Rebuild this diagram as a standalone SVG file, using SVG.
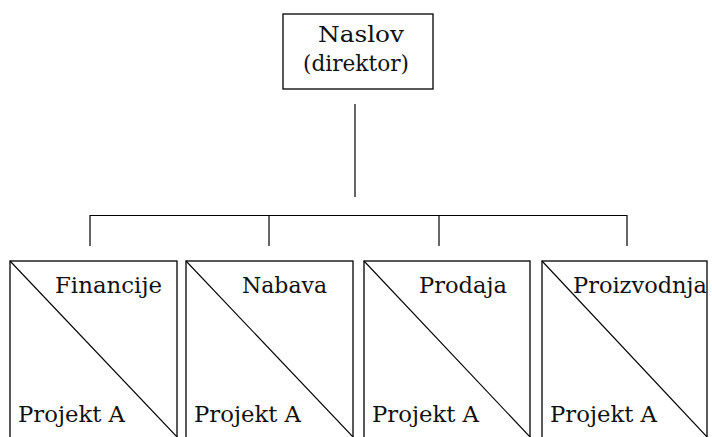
<svg xmlns="http://www.w3.org/2000/svg" width="712" height="437" viewBox="0 0 712 437">
  <style>
    .box { fill: #fff; stroke: #000; stroke-width: 1.3; }
    .diag { stroke: #000; stroke-width: 1.1; fill: none; }
    .link { stroke: #000; stroke-width: 1.2; fill: none; }
    text { font-family: "DejaVu Serif", "Liberation Serif", serif; font-size: 22px; fill: #111; }
    .mid { text-anchor: middle; }
  </style>
  <rect width="712" height="437" fill="#fff"/>

  <g id="connectors">
    <path class="link" d="M355 104 V197"/>
    <path class="link" d="M90 246 V215.5 H627 V246"/>
    <path class="link" d="M269 215.5 V246"/>
    <path class="link" d="M439 215.5 V246"/>
  </g>

  <g id="director">
    <rect class="box" x="283" y="14" width="150" height="75"/>
    <text class="mid" x="361" y="42" textLength="86" lengthAdjust="spacingAndGlyphs">Naslov</text>
    <text class="mid" x="356" y="71" textLength="106" lengthAdjust="spacingAndGlyphs">(direktor)</text>
  </g>

  <g id="financije">
    <rect class="box" x="10" y="261" width="167" height="180"/>
    <path class="diag" d="M10 261 L177 437"/>
    <text class="mid" x="108.5" y="293" textLength="107" lengthAdjust="spacingAndGlyphs">Financije</text>
    <text x="18" y="422" textLength="107" lengthAdjust="spacingAndGlyphs">Projekt A</text>
  </g>

  <g id="nabava">
    <rect class="box" x="186" y="261" width="167" height="180"/>
    <path class="diag" d="M186 261 L353 437"/>
    <text class="mid" x="284.5" y="293" textLength="85" lengthAdjust="spacingAndGlyphs">Nabava</text>
    <text x="194" y="422" textLength="107" lengthAdjust="spacingAndGlyphs">Projekt A</text>
  </g>

  <g id="prodaja">
    <rect class="box" x="364" y="261" width="166" height="180"/>
    <path class="diag" d="M364 261 L530 437"/>
    <text class="mid" x="463" y="293" textLength="88" lengthAdjust="spacingAndGlyphs">Prodaja</text>
    <text x="372" y="422" textLength="107" lengthAdjust="spacingAndGlyphs">Projekt A</text>
  </g>

  <g id="proizvodnja">
    <rect class="box" x="542" y="261" width="165" height="180"/>
    <path class="diag" d="M542 261 L707 437"/>
    <text class="mid" x="640" y="293" textLength="134" lengthAdjust="spacingAndGlyphs">Proizvodnja</text>
    <text x="550" y="422" textLength="107" lengthAdjust="spacingAndGlyphs">Projekt A</text>
  </g>
</svg>
